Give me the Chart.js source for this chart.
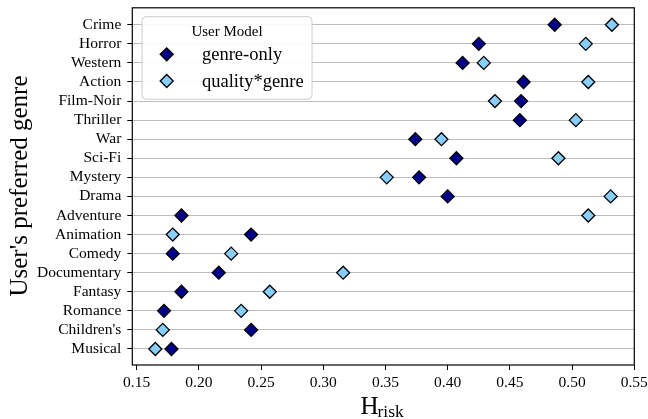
<!DOCTYPE html>
<html>
<head>
<meta charset="utf-8">
<script src="https://cdn.jsdelivr.net/npm/chart.js@4"></script>
<style>
  html, body { margin: 0; padding: 0; background: #fff; }
  #wrap { width: 648px; height: 419px; }
</style>
</head>
<body>
<div id="wrap"><canvas id="riskChart" width="648" height="419"></canvas></div>
<script>
// --- DATA ---
const genres = ["Crime", "Horror", "Western", "Action", "Film-Noir", "Thriller", "War", "Sci-Fi",
  "Mystery", "Drama", "Adventure", "Animation", "Comedy", "Documentary", "Fantasy", "Romance",
  "Children's", "Musical"];
const genreOnly = [0.486, 0.425, 0.412, 0.461, 0.459, 0.458, 0.374, 0.407, 0.377, 0.400,
  0.186, 0.242, 0.179, 0.216, 0.186, 0.172, 0.242, 0.178];
const qualityGenre = [0.532, 0.511, 0.429, 0.513, 0.438, 0.503, 0.395, 0.489, 0.351, 0.531,
  0.513, 0.179, 0.226, 0.316, 0.257, 0.234, 0.171, 0.165];
const xTicks = [0.15, 0.20, 0.25, 0.30, 0.35, 0.40, 0.45, 0.50, 0.55];
const seriesNames = ["genre-only", "quality*genre"];
const seriesColors = ["#00008b", "#87cefa"];

const SERIF = "'Liberation Serif', 'DejaVu Serif', serif";
Chart.defaults.font.family = SERIF;
Chart.defaults.color = "#000";

const toPoints = vals => vals.map((v, i) => ({ x: v, y: i }));

// --- frame, legend, axis titles ---
const decorations = {
  id: "decorations",
  afterDraw(chart) {
    const ctx = chart.ctx;
    const a = chart.chartArea;
    ctx.save();
    // frame (all four spines)
    ctx.strokeStyle = "#000";
    ctx.lineWidth = 1.2;
    ctx.strokeRect(a.left, a.top, a.right - a.left, a.bottom - a.top);

    // legend box
    const bx = 142, by = 16.7, bw = 170, bh = 82.5;
    ctx.beginPath();
    ctx.roundRect(bx, by, bw, bh, 4);
    ctx.fillStyle = "rgba(255,255,255,0.9)";
    ctx.fill();
    ctx.strokeStyle = "#cccccc";
    ctx.lineWidth = 1;
    ctx.stroke();

    ctx.fillStyle = "#000";
    ctx.font = "15px " + SERIF;
    ctx.textAlign = "center";
    ctx.textBaseline = "alphabetic";
    ctx.fillText("User Model", 227, 36);

    ctx.textAlign = "left";
    ctx.font = "18.5px " + SERIF;
    seriesNames.forEach((name, i) => {
      const my = 54.3 + i * 26.7;
      const mx = 166.7, r = 6.5;
      ctx.beginPath();
      ctx.moveTo(mx - r, my);
      ctx.lineTo(mx, my - r);
      ctx.lineTo(mx + r, my);
      ctx.lineTo(mx, my + r);
      ctx.closePath();
      ctx.fillStyle = seriesColors[i];
      ctx.fill();
      ctx.strokeStyle = "#000";
      ctx.lineWidth = 1.3;
      ctx.stroke();
      ctx.fillStyle = "#000";
      ctx.fillText(name, 202, my + 6);
    });

    // x title: H_risk
    ctx.font = "25px " + SERIF;
    ctx.fillText("H", 360.5, 414);
    ctx.font = "17.5px " + SERIF;
    ctx.fillText("risk", 377.5, 416.5);

    // y title
    ctx.translate(27, 186);
    ctx.rotate(-Math.PI / 2);
    ctx.textAlign = "center";
    ctx.font = "25px " + SERIF;
    ctx.fillText("User's preferred genre", 0, 0);
    ctx.restore();
  }
};

new Chart(document.getElementById("riskChart"), {
  type: "scatter",
  data: {
    datasets: [
      {
        label: seriesNames[0],
        data: toPoints(genreOnly),
        backgroundColor: seriesColors[0],
        borderColor: "#000",
        borderWidth: 1.3,
        pointStyle: "rectRot",
        pointRadius: 6.5,
        pointHoverRadius: 6.5
      },
      {
        label: seriesNames[1],
        data: toPoints(qualityGenre),
        backgroundColor: seriesColors[1],
        borderColor: "#000",
        borderWidth: 1.3,
        pointStyle: "rectRot",
        pointRadius: 6.5,
        pointHoverRadius: 6.5
      }
    ]
  },
  options: {
    responsive: false,
    animation: false,
    layout: { padding: { top: 7.3, right: 13.7, left: 0, bottom: 0 } },
    plugins: {
      legend: { display: false },
      tooltip: { enabled: false }
    },
    scales: {
      x: {
        type: "linear",
        min: 0.1465,
        max: 0.55,
        afterBuildTicks: axis => { axis.ticks = xTicks.map(v => ({ value: v })); },
        afterFit: axis => {
          axis.height = 54;
          axis.paddingLeft = 0;
          axis.paddingRight = 0;
        },
        border: { display: false },
        grid: { drawOnChartArea: false, drawTicks: true, tickLength: 5, tickColor: "#000", lineWidth: 1 },
        ticks: {
          font: { size: 15.5 },
          padding: 4,
          maxRotation: 0,
          autoSkip: false,
          callback: v => v.toFixed(2)
        }
      },
      y: {
        type: "linear",
        reverse: true,
        min: -0.89,
        max: 17.84,
        afterBuildTicks: axis => { axis.ticks = genres.map((g, i) => ({ value: i })); },
        afterFit: axis => {
          axis.width = 132.3;
          axis.paddingTop = 0;
          axis.paddingBottom = 0;
        },
        border: { display: false },
        grid: { color: "#bdbdbd", lineWidth: 1, tickLength: 5, tickColor: "#000" },
        ticks: {
          font: { size: 15.5 },
          padding: 6,
          autoSkip: false,
          callback: v => genres[v]
        }
      }
    }
  },
  plugins: [decorations]
});
</script>
</body>
</html>
